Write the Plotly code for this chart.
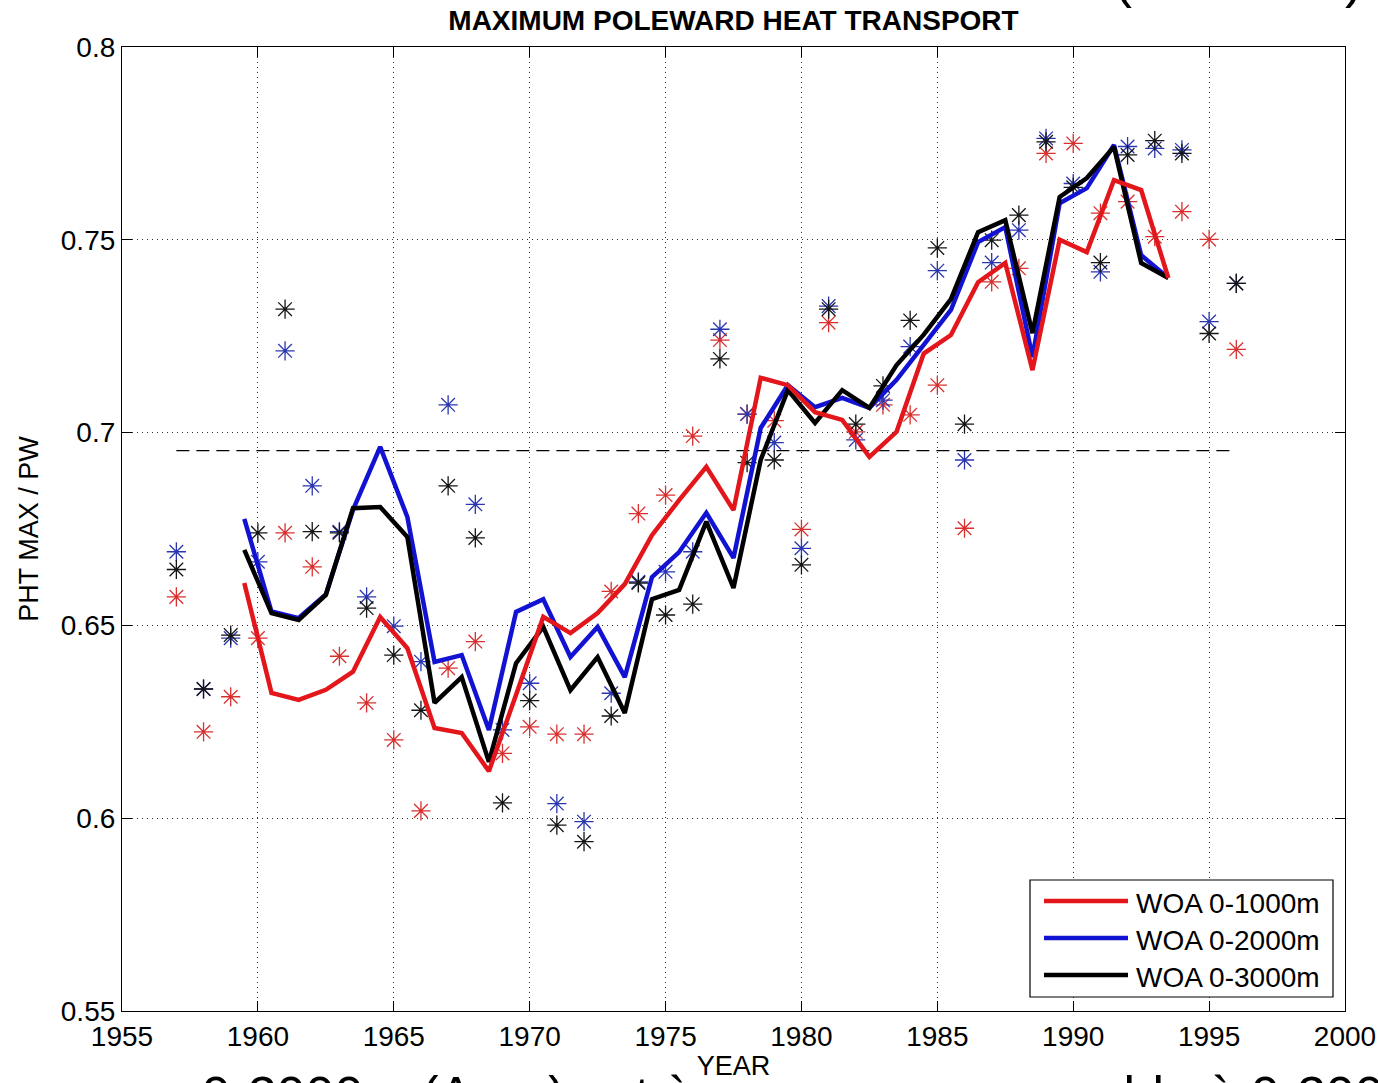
import plotly.graph_objects as go

# ---- data -------------------------------------------------------------
# running (smoothed) maxima, plotted at mid-year
line_years = [1959.5, 1960.5, 1961.5, 1962.5, 1963.5, 1964.5, 1965.5, 1966.5,
              1967.5, 1968.5, 1969.5, 1970.5, 1971.5, 1972.5, 1973.5, 1974.5,
              1975.5, 1976.5, 1977.5, 1978.5, 1979.5, 1980.5, 1981.5, 1982.5,
              1983.5, 1984.5, 1985.5, 1986.5, 1987.5, 1988.5, 1989.5, 1990.5,
              1991.5, 1992.5, 1993.5]

woa1000_line = [0.661, 0.6325, 0.6307, 0.6333, 0.638, 0.6522, 0.6441, 0.6234,
                0.6221, 0.6122, 0.632, 0.6522, 0.648, 0.6532, 0.6607, 0.6734,
                0.6825, 0.6911, 0.6799, 0.7142, 0.7123, 0.7053, 0.7033, 0.6937,
                0.7002, 0.7205, 0.7253, 0.739, 0.744, 0.7162, 0.75, 0.7468,
                0.7655, 0.7629, 0.7401]

woa2000_line = [0.6776, 0.6536, 0.6519, 0.658, 0.680, 0.6963, 0.6781, 0.6405,
                0.6423, 0.6229, 0.6535, 0.6568, 0.6418, 0.6496, 0.6366, 0.6625,
                0.669, 0.6792, 0.6675, 0.7012, 0.7123, 0.7066, 0.709, 0.7064,
                0.7137, 0.7228, 0.7318, 0.7494, 0.7533, 0.7196, 0.7595, 0.7634,
                0.7746, 0.746, 0.7401]

woa3000_line = [0.6696, 0.6532, 0.6514, 0.6579, 0.6804, 0.6807, 0.6729, 0.6299,
                0.6366, 0.6146, 0.6402, 0.6496, 0.6332, 0.6418, 0.6273, 0.6568,
                0.6592, 0.6769, 0.6597, 0.6929, 0.711, 0.7025, 0.711, 0.7064,
                0.7175, 0.7254, 0.7346, 0.752, 0.7551, 0.7258, 0.7611, 0.766,
                0.7741, 0.744, 0.7401]

# yearly values
point_years = [1957, 1958, 1959, 1960, 1961, 1962, 1963, 1964, 1965, 1966,
               1967, 1968, 1969, 1970, 1971, 1972, 1973, 1974, 1975, 1976,
               1977, 1978, 1979, 1980, 1981, 1982, 1983, 1984, 1985, 1986,
               1987, 1988, 1989, 1990, 1991, 1992, 1993, 1994, 1995, 1996]

woa1000_pts = [0.6574, 0.6224, 0.6315, 0.6467, 0.674, 0.6652, 0.642, 0.6299,
               0.6203, 0.6019, 0.6389, 0.6458, 0.6168, 0.6237, 0.6218, 0.6218,
               0.6588, 0.679, 0.6838, 0.6991, 0.724, 0.7048, 0.7031, 0.6749,
               0.7285, 0.7002, 0.7072, 0.7046, 0.7123, 0.6752, 0.7391, 0.7426,
               0.7724, 0.775, 0.7569, 0.7599, 0.7508, 0.7573, 0.7501, 0.7216]

woa2000_pts = [0.6691, 0.6335, 0.6467, 0.6665, 0.7212, 0.6862, 0.6743, 0.6574,
               0.6498, 0.6406, 0.7072, 0.6814, 0.6229, 0.635, 0.6038, 0.5991,
               0.6324, 0.6613, 0.6639, 0.6691, 0.7268, 0.7048, 0.6974, 0.670,
               0.7328, 0.6981, 0.7084, 0.7223, 0.742, 0.6929, 0.7441, 0.7525,
               0.7763, 0.7646, 0.7417, 0.7742, 0.7737, 0.7733, 0.7288, 0.7387]

woa3000_pts = [0.6645, 0.6335, 0.6475, 0.674, 0.732, 0.6743, 0.674, 0.6545,
               0.6423, 0.628, 0.6862, 0.6727, 0.604, 0.6305, 0.5982, 0.5939,
               0.6265, 0.661, 0.6527, 0.6555, 0.7191, 0.6922, 0.6929, 0.6657,
               0.732, 0.7022, 0.7121, 0.7291, 0.7479, 0.7022, 0.7499, 0.7564,
               0.7754, 0.7636, 0.7441, 0.772, 0.7757, 0.7724, 0.7257, 0.7387]

# long-term mean level
mean_years = [1957, 1996]
mean_level = [0.6953, 0.6953]

series_names = ["WOA 0-1000m", "WOA 0-2000m", "WOA 0-3000m"]
line_colors = ["#e3161c", "#1212d2", "#000000"]
point_colors = ["#d8302f", "#2a36b0", "#151515"]

FONT = "Liberation Sans, Arial, Helvetica, sans-serif"

fig = go.Figure()

# yearly asterisks
for pts, col in zip([woa1000_pts, woa2000_pts, woa3000_pts], point_colors):
    fig.add_trace(go.Scatter(
        x=point_years, y=pts, mode="markers", showlegend=False,
        hoverinfo="skip",
        marker=dict(symbol="asterisk-open", size=16, color=col,
                    line=dict(color=col, width=1.3)),
    ))

# mean dashed line
fig.add_trace(go.Scatter(
    x=mean_years, y=mean_level, mode="lines", showlegend=False,
    line=dict(color="#000000", width=1.2, dash="13px,7px"),
))

# smoothed lines (drawn blue, black, red)
line_data = {0: woa1000_line, 1: woa2000_line, 2: woa3000_line}
for idx in [1, 2, 0]:
    fig.add_trace(go.Scatter(
        x=line_years, y=line_data[idx], mode="lines", name=series_names[idx],
        showlegend=False,
        line=dict(color=line_colors[idx], width=4.5),
    ))

# ---- legend box (paper coordinates) ------------------------------------
L, R, T, B = 122, 1345, 47, 1011
W, H = R - L, B - T


def px(xp):
    return (xp - L) / W


def py(yp):
    return (B - yp) / H


fig.add_shape(type="rect", xref="paper", yref="paper",
              x0=px(1030), x1=px(1333), y0=py(997), y1=py(880),
              line=dict(color="#000000", width=1.2), fillcolor="white",
              layer="above")
for i, (nm, col) in enumerate(zip(series_names, line_colors)):
    yrow = 901 + i * 37
    fig.add_shape(type="line", xref="paper", yref="paper",
                  x0=px(1044), x1=px(1128), y0=py(yrow), y1=py(yrow),
                  line=dict(color=col, width=4.5), layer="above")
    fig.add_annotation(xref="paper", yref="paper", x=px(1134), y=py(yrow + 2),
                       xanchor="left", yanchor="middle", showarrow=False,
                       text=nm, font=dict(family=FONT, size=28, color="#000"))

# ---- slide text cut at the page edges ---------------------------------
fig.add_annotation(xref="paper", yref="paper", x=px(141), y=py(1064),
                   xanchor="left", yanchor="top", showarrow=False,
                   text="➢ 0-2000m (Argo) est à nouveau comparable à 0-2000m",
                   font=dict(family=FONT, size=52, color="#000"))
fig.add_annotation(xref="paper", yref="paper", x=px(1238), y=py(10),
                   xanchor="center", yanchor="bottom", showarrow=False,
                   text="(0-2000m)",
                   font=dict(family=FONT, size=54, color="#000"))

axis_common = dict(
    showline=True, linecolor="#000000", linewidth=1.2, mirror="ticks",
    ticks="inside", ticklen=10, tickwidth=1, tickcolor="#000000",
    showgrid=True, gridcolor="#333333", gridwidth=1, griddash="1px,4px",
    zeroline=False, automargin=False,
    tickfont=dict(family=FONT, size=28, color="#000000"),
)

fig.update_layout(
    width=1378, height=1083,
    margin=dict(l=L, r=1378 - R, t=T, b=1083 - B),
    paper_bgcolor="white", plot_bgcolor="white",
    showlegend=False,
    title=dict(text="<b>MAXIMUM POLEWARD HEAT TRANSPORT</b>",
               x=(L + W / 2) / 1378, xanchor="center",
               y=1 - 20 / 1083, yanchor="middle",
               font=dict(family=FONT, size=28, color="#000000")),
    xaxis=dict(range=[1955, 2000], dtick=5, tick0=1955,
               title=dict(text="YEAR", standoff=5,
                          font=dict(family=FONT, size=27, color="#000")),
               ticklabelstandoff=0,
               **axis_common),
    yaxis=dict(range=[0.55, 0.8], dtick=0.05, tick0=0.55,
               title=dict(text="PHT MAX / PW", standoff=14,
                          font=dict(family=FONT, size=27, color="#000")),
               **axis_common),
)

fig.write_html("out.html")
